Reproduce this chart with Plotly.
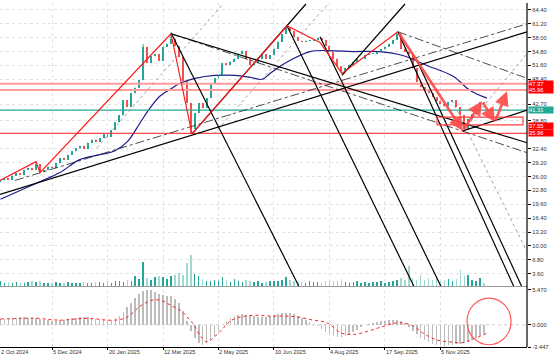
import plotly.graph_objects as go

# ---------------- data ----------------
CLOSES = [25.1, 25.6, 25.3, 26.2, 26.8, 26.4, 27.5, 28.0, 27.6, 28.9,
          27.0, 27.5, 28.3, 27.9, 29.0, 30.3, 29.8, 31.0, 31.8, 32.5,
          33.1, 32.4, 33.8, 34.5, 33.9, 34.9, 35.8, 35.2, 36.7, 38.5,
          40.1, 43.6, 42.0, 45.2, 46.5, 48.2, 55.9, 52.1, 53.7, 54.3,
          52.7, 55.9, 56.6, 57.8, 56.0, 53.5, 48.0, 43.0, 37.0, 40.6,
          42.9, 41.8, 44.1, 47.5, 48.6, 49.3, 52.1, 51.6, 52.5, 53.2,
          54.3, 55.0, 53.2, 51.6, 52.1, 53.2, 54.3, 53.2, 53.9, 55.5,
          57.1, 58.9, 60.3, 59.6, 58.2, 57.3, 57.1, 57.3, 57.3, 57.5,
          58.0, 57.5, 56.2, 54.8, 53.2, 51.4, 50.2, 51.1, 51.8, 52.5,
          53.0, 53.2, 54.1, 54.3, 54.3, 54.8, 55.3, 55.9, 56.6, 57.5,
          58.9, 55.5, 54.8, 54.3, 50.9, 47.9, 46.6, 45.9, 45.2, 44.3,
          43.4, 42.7, 42.2, 43.1, 43.6, 42.0, 40.2, 37.0, 39.3, 40.4,
          41.8, 43.1, 42.9]
FIRST_OPEN = 24.8
PIVOT_HIGHS = {9: 29.4, 36: 56.5, 43: 58.9, 72: 60.7, 100: 59.4}
PIVOT_LOWS = {10: 26.9, 48: 35.8, 86: 49.8, 117: 36.5}

VOLUMES = [1.3, 1.0, 1.1, 0.9, 1.2, 1.0, 0.8, 1.1, 1.4, 1.2,
           1.3, 0.9, 1.0, 0.8, 1.1, 0.9, 1.0, 1.2, 0.8, 1.0,
           0.9, 1.1, 0.8, 1.0, 1.2, 1.1, 0.9, 1.3, 1.0, 1.4,
           1.5, 1.2, 1.7, 1.4, 2.6, 2.0, 6.3, 2.2, 1.8, 2.5,
           2.7, 2.4, 1.9, 2.6, 3.0, 3.4, 2.9, 6.0, 8.1, 3.1,
           2.6, 1.9, 1.5, 1.4, 1.8, 1.3, 2.5, 1.6, 1.2, 2.0,
           1.4, 1.2, 1.7, 1.3, 1.1, 1.4, 1.0, 1.2, 1.5, 1.3,
           1.4, 1.8, 2.4, 1.6, 1.3, 1.1, 1.2, 1.0, 1.3, 1.1,
           1.2, 1.0, 1.4, 1.7, 1.3, 1.5, 2.0, 1.2, 1.0, 1.1,
           1.3, 0.9, 1.1, 1.0, 1.2, 1.1, 1.3, 1.0, 1.2, 1.4,
           1.8, 2.3, 1.6, 5.2, 2.1, 1.8, 3.0, 1.7, 2.2, 1.6,
           2.4, 1.5, 1.8, 2.0, 1.4, 1.9, 4.3, 2.6, 3.0, 1.7,
           1.5, 2.2, 1.0]

MACD_HIST = [0.9, 0.95, 1.0, 1.05, 1.1, 1.15, 1.15, 1.1, 1.05, 1.0,
             0.9, 0.8, 0.7, 0.65, 0.65, 0.7, 0.8, 0.9, 1.0, 1.1,
             1.15, 1.2, 1.15, 1.05, 0.9, 0.8, 0.7, 0.7, 0.8, 1.0,
             1.4, 2.0, 2.7, 3.4, 4.1, 4.7, 5.2, 5.47, 5.35, 5.1,
             4.8, 4.6, 4.5, 4.4, 4.0, 3.3, 2.1, 0.6, -0.9, -2.0,
             -2.8, -3.1, -2.9, -2.4, -1.7, -0.9, -0.1, 0.6, 1.1, 1.4,
             1.55, 1.6, 1.55, 1.45, 1.35, 1.25, 1.2, 1.2, 1.3, 1.5,
             1.7, 1.85, 1.9, 1.8, 1.6, 1.35, 1.1, 0.8, 0.5, 0.15,
             -0.25, -0.7, -1.1, -1.5, -1.8, -1.95, -1.9, -1.7, -1.4, -1.1,
             -0.75, -0.4, -0.1, 0.15, 0.35, 0.5, 0.6, 0.65, 0.7, 0.75,
             0.8, 0.6, 0.2, -0.3, -0.9, -1.5, -2.0, -2.4, -2.7, -2.95,
             -3.1, -3.2, -3.25, -3.2, -3.1, -3.0, -2.95, -2.9, -2.6, -2.3,
             -2.0, -1.7, -1.4]
SIGNAL_X = [0, 5, 9, 12.5, 15.5, 21, 24, 27, 29.5, 32, 35.5, 38.5, 40.7, 43, 45.5,
            47.3, 48.8, 50.3, 52.1, 54.1, 56.1, 58, 60.4, 64.2, 68, 71.8, 75, 78.6,
            82.4, 86, 89.4, 93.2, 97, 100, 102, 104, 107, 110, 113.4, 116.7, 119.7, 122.7]
SIGNAL_Y = [0.9, 0.98, 1.02, 0.8, 0.72, 0.98, 0.9, 0.72, 0.75, 1.2, 3.0, 3.85, 3.75, 3.0, 2.2,
            1.05, 0.0, -1.6, -2.65, -1.8, -0.6, 0.6, 1.18, 1.48, 1.35, 1.35, 1.2, 0.75,
            0.3, -1.3, -1.48, -0.9, -0.15, 0.3, 0.22, -0.15, -1.45, -2.35, -2.65, -2.77, -2.1, -1.35]

MA_X = [0, 9.5, 15, 20, 25.1, 28.9, 32.2, 35.2, 37.7, 40.2, 42.8, 45.3, 49.1, 54.1, 59.2,
        63, 66, 68, 70.5, 73, 78.1, 83.1, 88.9, 95.7, 101.5, 107.6, 114.2, 118.4, 122.7]
MA_Y = [20.74, 24.63, 26.91, 29.89, 31.03, 31.94, 34.23, 38.34, 41.77, 44.51, 46.11, 47.49,
        48.63, 49.31, 49.31, 48.86, 48.4, 49.77, 51.37, 52.74, 54.8, 55.03, 54.8, 54.8,
        53.89, 51.6, 49.09, 45.89, 44.06]

ZIGZAG_X = [-0.12, 8.96, 9.97, 43.02, 48.32, 72.28, 80.6, 86.16, 100.28]
ZIGZAG_Y = [25.09, 29.43, 26.91, 58.91, 35.83, 60.74, 56.9, 49.77, 59.37]

TREND_SOLID = [(-0.12, 21.89, 132.83, 59.37), (43.02, 58.91, 132.83, 33.77),
               (43.02, 59.14, 75.31, 0.63), (48.32, 35.83, 77.07, 65.77),
               (72.28, 60.74, 104.32, 0.63), (80.61, 58.23, 111.13, 0.63),
               (86.16, 49.31, 102.05, 65.77), (100.28, 59.37, 129.5, 0.63),
               (105.08, 52.74, 131.5, 0.63), (116.68, 36.51, 132.83, 41.31)]
TREND_DASHDOT = [(3.66, 25.09, 132.83, 61.2), (100.28, 59.37, 132.83, 48.63),
                 (43.02, 58.91, 132.83, 31.49)]
TREND_THIN = [(24.35, 32.63, 56.14, 65.77), (53.86, 35.83, 82.62, 65.77),
              (116.68, 36.51, 132.83, 54.34), (113.9, 43.6, 132.83, 8.63)]
ARROWS = [(100.28, 59.37, 116.68, 36.51), (116.68, 36.51, 121.47, 43.37),
          (121.47, 43.37, 124.75, 38.57), (124.75, 38.57, 127.78, 45.66)]
RECT = (110.12, 37.9, 131.81, 39.7)

PINK_LEVELS = [47.37, 45.96]
TEAL_LEVEL = 41.31
RED_LEVEL = 35.96
PRICE_LABELS = [("47.37", 47.37, "#ff0000"), ("45.96", 45.96, "#ff0000"),
                ("41.31", 41.31, "#20a898"), ("37.55", 37.55, "#ff0000"),
                ("35.96", 35.96, "#ff0000")]

PRICE_TICKS = [64.4, 61.2, 58.0, 54.8, 51.6, 48.4, 42.7, 38.8,
               32.4, 29.2, 26.0, 22.8, 19.6, 16.4, 13.2, 10.0, 6.8, 3.6]
DATE_TICKS = [-1, 13, 27, 41, 55, 69, 83, 97, 111]
DATE_LABEL_X = [-0.12, 13, 27, 41, 55, 69, 83, 97, 111]
DATE_LABELS = ["2 Oct 2024", "5 Dec 2024", "20 Jan 2025", "12 Mar 2025", "2 May 2025",
               "10 Jun 2025", "4 Aug 2025", "17 Sep 2025", "5 Nov 2025"]
OSC_TICKS = [5.47, 0.0, -3.447]
OSC_LABELS = ["5.470", "0.000", "-3.447"]
CIRCLE = (117.7, -3.1, 128.8, 4.14)

X_RANGE = [-0.12, 132.83]
PRICE_RANGE = [0.63, 66.0]
VOL_RANGE = [0, 73]
OSC_RANGE = [-3.447, 5.47]

UP, DOWN = "#26a69a", "#ef5350"

# ---------------- build ----------------
bars = list(range(len(CLOSES)))
opens = [FIRST_OPEN] + CLOSES[:-1]
highs = [PIVOT_HIGHS.get(i, max(o, c)) for i, (o, c) in enumerate(zip(opens, CLOSES))]
lows = [PIVOT_LOWS.get(i, min(o, c)) for i, (o, c) in enumerate(zip(opens, CLOSES))]
is_up = [c >= o for o, c in zip(opens, CLOSES)]
vol_colors = [UP if u else "#9fd9d2" for u in is_up]

fig = go.Figure()

# volume (base layer, hidden axis)
fig.add_trace(go.Bar(x=bars, y=VOLUMES, xaxis="x", yaxis="y", marker_color=vol_colors,
                     marker_line_width=0, width=0.38, hoverinfo="skip"))

def seg(x0, y0, x1, y1, color, width, dash="solid"):
    fig.add_trace(go.Scatter(x=[x0, x1], y=[y0, y1], mode="lines", xaxis="x", yaxis="y3",
                             line=dict(color=color, width=width, dash=dash), hoverinfo="skip"))

# moving average
fig.add_trace(go.Scatter(x=MA_X, y=MA_Y, mode="lines", xaxis="x", yaxis="y3",
                         line=dict(color="#1c1c8c", width=1.2, shape="spline"), hoverinfo="skip"))

# candles: wicks + bodies
for up_flag, col in ((True, UP), (False, DOWN)):
    wx, wy = [], []
    bx, bbase, bh = [], [], []
    for i in bars:
        if is_up[i] != up_flag:
            continue
        wx += [i, i, None]
        wy += [lows[i], highs[i], None]
        bx.append(i)
        bbase.append(min(opens[i], CLOSES[i]))
        bh.append(max(abs(CLOSES[i] - opens[i]), 0.12))
    fig.add_trace(go.Scatter(x=wx, y=wy, mode="lines", xaxis="x", yaxis="y3",
                             line=dict(color=col, width=1), hoverinfo="skip"))
    fig.add_trace(go.Bar(x=bx, y=bh, base=bbase, xaxis="x", yaxis="y3", marker_color=col,
                         marker_line_width=0, width=0.5, hoverinfo="skip"))

# horizontal levels
for lv in PINK_LEVELS:
    seg(X_RANGE[0], lv, X_RANGE[1], lv, "#ff9c9c", 2)
seg(X_RANGE[0], TEAL_LEVEL, X_RANGE[1], TEAL_LEVEL, "#20a898", 1.4)
seg(X_RANGE[0], RED_LEVEL, X_RANGE[1], RED_LEVEL, "#ff1a1a", 1)

for t in TREND_THIN:
    seg(*t, "#8a8a8a", 0.8, "dot")
for t in TREND_DASHDOT:
    seg(*t, "#202020", 0.8, "dashdot")
for t in TREND_SOLID:
    seg(*t, "#000000", 1.2)

# zigzag
fig.add_trace(go.Scatter(x=ZIGZAG_X, y=ZIGZAG_Y, mode="lines", xaxis="x", yaxis="y3",
                         line=dict(color="#ff1a1a", width=1.2), hoverinfo="skip"))

# rectangle
rx0, ry0, rx1, ry1 = RECT
fig.add_trace(go.Scatter(x=[rx0, rx1, rx1, rx0, rx0], y=[ry0, ry0, ry1, ry1, ry0], mode="lines",
                         xaxis="x", yaxis="y3", line=dict(color="#ff4040", width=1.2),
                         hoverinfo="skip"))

# oscillator
fig.add_trace(go.Bar(x=bars, y=MACD_HIST, xaxis="x2", yaxis="y2", marker_color="#bdbdbd",
                     marker_line_width=0, width=0.42, hoverinfo="skip"))
fig.add_trace(go.Scatter(x=SIGNAL_X, y=SIGNAL_Y, mode="lines", xaxis="x2", yaxis="y2",
                         line=dict(color="#ff2020", width=1, dash="dot", shape="spline"),
                         hoverinfo="skip"))

annotations = []
for x0, y0, x1, y1 in ARROWS:
    annotations.append(dict(x=x1, y=y1, ax=x0, ay=y0, xref="x", yref="y3", axref="x", ayref="y3",
                            text="", showarrow=True, arrowhead=2, arrowsize=1.1, arrowwidth=2.6,
                            arrowcolor="rgba(255,70,70,0.9)", standoff=0, startstandoff=0))
for txt, val, col in PRICE_LABELS:
    annotations.append(dict(x=1, y=val, xref="paper", yref="y3", xanchor="left", yanchor="middle",
                            xshift=1, text=txt, showarrow=False, bgcolor=col, borderpad=0,
                            width=24, height=6, align="left",
                            font=dict(color="white", size=5.8, family="Liberation Sans")))
for xv, txt in zip(DATE_LABEL_X, DATE_LABELS):
    annotations.append(dict(x=xv, y=0, xref="x2", yref="paper", xanchor="left", yanchor="top",
                            yshift=-1, text=txt, showarrow=False, borderpad=0,
                            font=dict(color="#333333", size=5.6, family="Liberation Sans")))

main_bottom = 61 / 347
shapes = [
    dict(type="circle", xref="x2", yref="y2", x0=CIRCLE[0], y0=CIRCLE[1], x1=CIRCLE[2],
         y1=CIRCLE[3], line=dict(color="#ff5a5a", width=1.2)),
    dict(type="line", xref="paper", yref="paper", x0=0, x1=1, y0=main_bottom, y1=main_bottom,
         line=dict(color="#9a9a9a", width=1)),
    dict(type="line", xref="paper", yref="paper", x0=1, x1=1, y0=0, y1=1,
         line=dict(color="#000000", width=1.2)),
    dict(type="line", xref="x2", yref="y2", x0=X_RANGE[0], x1=X_RANGE[1], y0=0, y1=0,
         line=dict(color="#d0d0d0", width=1, dash="dot"), layer="below"),
]

tickfont = dict(size=5.8, color="#333333", family="Liberation Sans")
grid = dict(showgrid=True, gridcolor="#e2e2e2", griddash="dot", gridwidth=1)

fig.update_layout(
    width=554, height=358, margin=dict(l=0, r=27, t=0, b=11),
    paper_bgcolor="white", plot_bgcolor="white", showlegend=False,
    bargap=0, barmode="overlay",
    annotations=annotations, shapes=shapes,
    xaxis=dict(domain=[0, 1], anchor="y", range=X_RANGE, tickvals=DATE_TICKS,
               showticklabels=False, zeroline=False, ticks="", **grid),
    xaxis2=dict(domain=[0, 1], anchor="y2", range=X_RANGE, matches="x", tickvals=DATE_TICKS,
                showticklabels=False, ticks="outside", ticklen=2, tickcolor="#000",
                showline=True, linecolor="#000", linewidth=1.2, zeroline=False, **grid),
    yaxis=dict(domain=[main_bottom, 1], anchor="x", range=VOL_RANGE, visible=False,
               showgrid=False, zeroline=False),
    yaxis3=dict(domain=[main_bottom, 1], anchor="x", overlaying="y", side="right",
                range=PRICE_RANGE, tickvals=PRICE_TICKS,
                ticktext=["%.2f" % v for v in PRICE_TICKS], ticks="outside", ticklen=3,
                tickcolor="#000", tickfont=tickfont, zeroline=False, **grid),
    yaxis2=dict(domain=[0, 58 / 347], anchor="x2", side="right", range=OSC_RANGE,
                tickvals=OSC_TICKS, ticktext=OSC_LABELS, ticks="outside", ticklen=3,
                tickcolor="#000", tickfont=tickfont, zeroline=False, showgrid=False),
)

fig.write_html("out.html", config={"displayModeBar": False, "staticPlot": True},
               post_script="document.body.style.margin='0';document.body.style.overflow='hidden';")
